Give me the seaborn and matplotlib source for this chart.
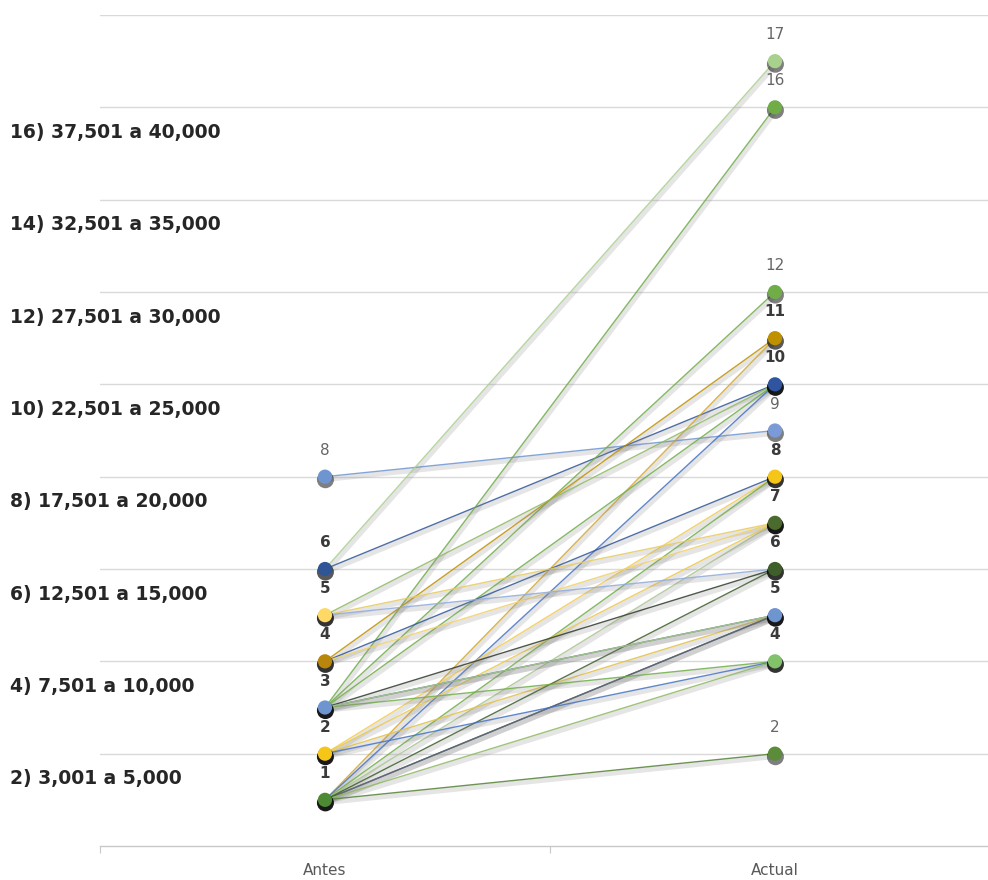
import numpy as np
import pandas as pd
import matplotlib
matplotlib.use("Agg")
import matplotlib.pyplot as plt
import matplotlib.patheffects as pe
from matplotlib.transforms import offset_copy
import seaborn as sns

# --- data -------------------------------------------------------------
periodos = ["Antes", "Actual"]

# income level of each person before and now
nivel_antes = [8, 6, 6, 3, 3, 4, 1, 5, 3, 1, 4, 2, 1, 5, 4, 1, 2, 5, 3,
               2, 3, 1, 1, 1, 3, 2, 1, 1, 3]
nivel_actual = [9, 10, 17, 16, 12, 11, 11, 10, 10, 10, 8, 8, 8, 7, 7, 7, 7, 6, 6,
                5, 5, 5, 5, 6, 4, 4, 4, 2, 5]
colores_linea = ["#6F95D1", "#2F5597", "#A9D18E", "#70AD47", "#70AD47", "#BF9000",
                 "#D4A72C", "#8DB960", "#70AD47", "#4472C4", "#2F5597", "#F2CC4E",
                 "#70AD47", "#E6CB5C", "#F0D066", "#A9C48E", "#EBC84A", "#8FAADC",
                 "#2E3A2A", "#E2C044", "#3B4A6B", "#404040", "#5A6A7A", "#3E5E2A",
                 "#70AD47", "#4472C4", "#8DB960", "#548235", "#A9D18E"]

# markers at each end
puntos_antes = [1, 2, 3, 4, 5, 6, 8]
color_antes = ["#4E8A34", "#F5C518", "#6F95D1", "#B8860B", "#FFD966", "#2F5597", "#6F95D1"]
puntos_actual = [2, 4, 5, 6, 7, 8, 9, 10, 11, 12, 16, 17]
color_actual = ["#5B8C3A", "#82C26A", "#6F95D1", "#3E5E2A", "#4A6B2D", "#F5C518",
                "#7B9BD8", "#2F55A0", "#BF9000", "#70AD47", "#70AD47", "#A9D18E"]

# income range labels
rangos = ["2) 3,001 a 5,000", "4) 7,501 a 10,000", "6) 12,501 a 15,000",
          "8) 17,501 a 20,000", "10) 22,501 a 25,000", "12) 27,501 a 30,000",
          "14) 32,501 a 35,000", "16) 37,501 a 40,000"]
niveles_rango = [2, 4, 6, 8, 10, 12, 14, 16]

# --- figure -----------------------------------------------------------
sns.set_theme(style="white")
plt.rcParams["font.family"] = ["DejaVu Sans"]

W, H = 988, 880
fig = plt.figure(figsize=(W / 100, H / 100), dpi=100)
ax = fig.add_axes([100 / W, 34 / H, 900 / W, 831 / H])

n = len(nivel_antes)
ids = [f"p{i:02d}" for i in range(n)]
df = pd.DataFrame({
    "id": np.repeat(ids, 2),
    "x": np.tile([0, 1], n),
    "nivel": np.ravel(np.column_stack([nivel_antes, nivel_actual])),
})
paleta = dict(zip(ids, colores_linea))

sns.lineplot(data=df, x="x", y="nivel", hue="id", palette=paleta, legend=False,
             estimator=None, sort=False, linewidth=1.0, alpha=0.85, ax=ax)
for ln in ax.lines:
    ln.set_path_effects([pe.SimpleLineShadow(offset=(1, -2), shadow_color="#7f7f7f",
                                             alpha=0.2, linewidth=3.5),
                         pe.Normal()])

# end markers with a soft dark shadow
def marcadores(xpos, niveles, colores, extremos):
    xs = [xpos] * len(niveles)
    alfa = [min(0.35 + 0.15 * extremos.count(v), 0.9) for v in niveles]
    sns.scatterplot(x=xs, y=niveles, color="black", s=150,
                    linewidth=0, ax=ax, legend=False, zorder=4)
    sombra = ax.collections[-1]
    sombra.set_alpha(None)
    sombra.set_facecolors([(0, 0, 0, a) for a in alfa])
    sombra.set_offset_transform(
        offset_copy(ax.transData, fig=fig, x=0.3, y=-2.2, units="points"))
    sns.scatterplot(x=xs, y=niveles, hue=[str(v) for v in niveles],
                    palette=dict(zip([str(v) for v in niveles], colores)),
                    s=105, linewidth=0, ax=ax, legend=False, zorder=5)

marcadores(0, puntos_antes, color_antes, nivel_antes)
marcadores(1, puntos_actual, color_actual, nivel_actual)

# value labels above markers
for xpos, niveles, extremos in [(0, puntos_antes, nivel_antes),
                                (1, puntos_actual, nivel_actual)]:
    for v in niveles:
        oscuro = extremos.count(v) >= 2
        ax.annotate(str(v), (xpos, v), xytext=(0, 19), textcoords="offset points",
                    ha="center", va="center", fontsize=11,
                    color="#3a3a3a" if oscuro else "#666666",
                    fontweight="bold" if oscuro else "normal", zorder=6)

# axes styling
ax.set_xlim(-0.5, 1.5)
ax.set_ylim(0, 18)
ax.set_xticks([0, 1], labels=periodos)
ax.set_xticks([-0.5, 0.5, 1.5], minor=True)
ax.tick_params(axis="x", which="major", length=0, pad=12, labelsize=11,
               labelcolor="#595959")
ax.tick_params(axis="x", which="minor", length=5, width=0.8, color="#c8c8c8",
               direction="out", bottom=True)
ax.set_xlabel("")
ax.set_ylabel("")

ax.set_yticks(np.arange(2, 19, 2), labels=[""] * 9)
ax.set_yticks(np.array(niveles_rango) - 0.5, labels=rangos, minor=True)
ax.tick_params(axis="y", which="both", length=0)
ax.tick_params(axis="y", which="minor", pad=65, labelsize=13.5, labelcolor="#262626")
for lbl in ax.get_yticklabels(minor=True):
    lbl.set_horizontalalignment("left")
    lbl.set_fontweight("bold")

ax.grid(axis="y", which="major", color="#d9d9d9", linewidth=1)
ax.grid(axis="x", visible=False)
for side in ["top", "left", "right"]:
    ax.spines[side].set_visible(False)
ax.spines["bottom"].set_color("#c8c8c8")
ax.spines["bottom"].set_linewidth(1)

fig.savefig("out.png", dpi=100)
